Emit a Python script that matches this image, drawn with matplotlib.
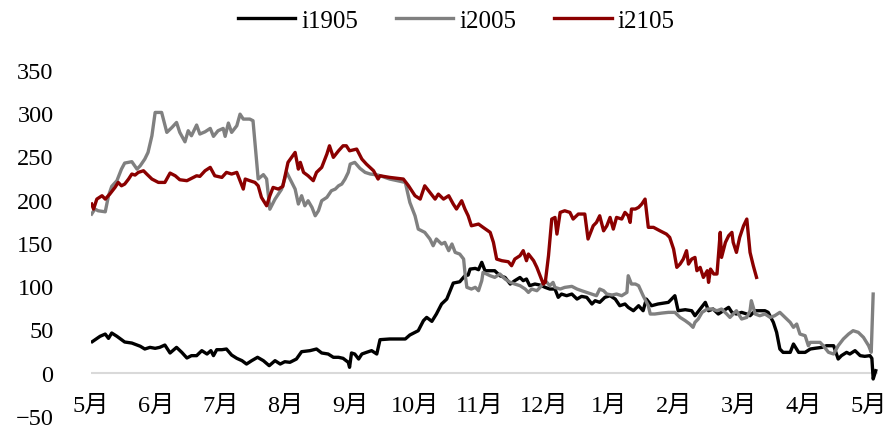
import numpy as np
import matplotlib
matplotlib.use("Agg")
import matplotlib.pyplot as plt

# x positions: months elapsed since the first "5月" tick
month_labels = ["5月", "6月", "7月", "8月", "9月", "10月", "11月", "12月",
                "1月", "2月", "3月", "4月", "5月"]

t_i1905 = [0.02, 0.14, 0.22, 0.27, 0.32, 0.40, 0.47, 0.52, 0.63, 0.76, 0.83, 0.91, 0.99,
           1.06, 1.14, 1.22, 1.32, 1.40, 1.48, 1.55, 1.63, 1.71, 1.79, 1.85, 1.89, 1.94,
           2.02, 2.09, 2.17, 2.25, 2.33, 2.40, 2.48, 2.57, 2.66, 2.75, 2.84, 2.92, 2.99,
           3.07, 3.17, 3.25, 3.38, 3.48, 3.56, 3.66, 3.74, 3.82, 3.89, 3.97, 3.99, 4.02,
           4.07, 4.13, 4.18, 4.25, 4.33, 4.41, 4.46, 4.61, 4.85, 4.92, 5.05, 5.13, 5.18,
           5.26, 5.33, 5.41, 5.49, 5.59, 5.69, 5.77, 5.82, 5.85, 5.93, 5.98, 6.03, 6.08,
           6.16, 6.23, 6.31, 6.39, 6.47, 6.54, 6.62, 6.67, 6.72, 6.77, 6.85, 6.93, 7.01,
           7.08, 7.16, 7.21, 7.26, 7.34, 7.42, 7.50, 7.57, 7.65, 7.73, 7.78, 7.85, 7.93,
           8.01, 8.09, 8.16, 8.24, 8.29, 8.37, 8.45, 8.52, 8.57, 8.65, 8.75, 8.91, 9.01,
           9.06, 9.17, 9.27, 9.32, 9.40, 9.48, 9.53, 9.60, 9.68, 9.76, 9.84, 9.89, 9.96,
           10.04, 10.12, 10.17, 10.25, 10.32, 10.40, 10.45, 10.53, 10.58, 10.63, 10.68,
           10.79, 10.84, 10.92, 11.02, 11.10, 11.17, 11.28, 11.35, 11.46, 11.53, 11.58,
           11.66, 11.71, 11.79, 11.87, 11.94, 12.02, 12.05, 12.07, 12.11]
v_i1905 = [35.7, 41.9, 44.5, 39.5, 45.7, 41.9, 38.0, 35.3, 34.1, 30.4, 27.2, 29.1, 28.0,
           29.1, 31.8, 22.6, 29.1, 23.4, 16.8, 19.5, 19.5, 25.3, 21.4, 25.3, 19.5, 26.4,
           26.4, 27.2, 20.2, 16.4, 13.7, 9.8, 13.7, 17.6, 13.7, 7.9, 13.7, 9.8, 12.5,
           11.8, 15.6, 24.1, 25.3, 27.2, 22.6, 21.4, 17.6, 17.6, 16.4, 11.8, 6.0, 22.6,
           21.4, 15.6, 21.4, 23.3, 25.3, 21.4, 38.0, 38.8, 38.8, 43.4, 48.4, 60.0, 63.8,
           59.2, 67.7, 79.3, 85.0, 103.5, 105.0, 112.0, 112.8, 119.7, 120.5, 119.0, 127.5, 117.8,
           117.8, 117.8, 112.0, 110.0, 102.4, 106.3, 110.0, 106.3, 108.2, 100.5, 102.4, 101.2, 98.5,
           96.6, 96.6, 87.0, 90.8, 88.9, 90.8, 85.0, 88.1, 87.0, 79.3, 83.1, 81.2, 87.0,
           88.9, 85.0, 77.3, 79.3, 75.4, 71.5, 77.3, 71.5, 85.0, 77.3, 79.3, 81.2, 88.9,
           71.5, 72.7, 71.5, 65.7, 73.5, 81.2, 71.5, 73.5, 67.7, 71.5, 75.4, 69.6, 67.7,
           69.6, 67.7, 65.7, 71.5, 71.5, 71.5, 69.6, 58.0, 46.5, 27.2, 23.3,
           23.3, 33.0, 23.3, 23.3, 27.2, 28.0, 29.1, 31.0, 31.0, 15.6, 19.5,
           23.3, 21.4, 25.3, 19.5, 18.7, 19.5, 16.4, -7.5, 2.1]

t_i2005 = [0.01, 0.06, 0.11, 0.22, 0.27, 0.32, 0.40, 0.47, 0.52, 0.63, 0.71, 0.76, 0.83,
           0.88, 0.94, 0.99, 1.09, 1.17, 1.25, 1.32, 1.37, 1.45, 1.50, 1.55, 1.63, 1.68,
           1.76, 1.84, 1.89, 1.96, 2.04, 2.07, 2.12, 2.17, 2.25, 2.30, 2.35, 2.45, 2.50,
           2.58, 2.66, 2.71, 2.76, 2.84, 2.94, 3.02, 3.15, 3.20, 3.25, 3.30, 3.35, 3.41,
           3.46, 3.51, 3.56, 3.64, 3.71, 3.77, 3.82, 3.87, 3.92, 3.97, 4.00, 4.07, 4.15,
           4.23, 4.31, 4.43, 4.61, 4.85, 4.92, 5.00, 5.05, 5.15, 5.23, 5.28, 5.33, 5.41,
           5.46, 5.52, 5.57, 5.62, 5.69, 5.75, 5.77, 5.80, 5.87, 5.93, 5.98, 6.03, 6.05,
           6.16, 6.23, 6.31, 6.39, 6.47, 6.54, 6.62, 6.70, 6.75, 6.80, 6.88, 6.93, 7.01,
           7.08, 7.13, 7.16, 7.24, 7.31, 7.42, 7.50, 7.57, 7.65, 7.73, 7.80, 7.85, 7.91,
           7.96, 8.04, 8.11, 8.19, 8.27, 8.29, 8.34, 8.40, 8.45, 8.52, 8.60, 8.63, 8.70,
           8.81, 8.91, 9.01, 9.09, 9.17, 9.24, 9.29, 9.32, 9.37, 9.43, 9.51, 9.58, 9.66,
           9.73, 9.81, 9.86, 9.91, 9.96, 10.04, 10.12, 10.17, 10.19, 10.25, 10.32, 10.40,
           10.48, 10.55, 10.63, 10.71, 10.79, 10.84, 10.89, 10.94, 11.02, 11.07, 11.10,
           11.17, 11.25, 11.30, 11.38, 11.46, 11.53, 11.61, 11.69, 11.76, 11.84, 11.92,
           12.00, 12.04, 12.07]
v_i2005 = [183.4, 189.2, 187.2, 186.0, 204.6, 215.4, 222.0, 235.4, 242.4, 244.0, 235.4, 239.3, 247.0,
           254.7, 274.0, 301.0, 301.0, 277.9, 283.7, 289.4, 277.9, 267.0, 279.8, 274.0, 286.4, 276.0,
           278.6, 282.5, 273.3, 279.8, 282.5, 273.3, 288.7, 277.9, 285.6, 299.0, 293.3, 293.3, 291.4,
           224.0, 229.0, 224.0, 189.0, 200.7, 212.0, 231.6, 212.3, 195.0, 204.6, 193.0, 198.8, 191.1,
           181.4, 187.2, 198.8, 202.7, 210.4, 212.3, 216.1, 218.1, 223.9, 231.6, 241.2, 243.2, 236.3,
           231.6, 229.7, 228.5, 223.9, 220.0, 196.9, 181.4, 166.0, 162.2, 154.5, 146.7, 154.5, 148.7,
           150.6, 141.0, 148.7, 139.0, 137.1, 131.3, 115.9, 98.6, 96.6, 98.6, 94.7, 106.3, 115.9,
           112.0, 110.1, 114.0, 108.2, 104.3, 102.4, 100.5, 96.6, 92.7, 96.6, 94.7, 98.5, 106.3,
           100.5, 104.3, 98.5, 96.6, 98.5, 99.7, 96.6, 94.7, 92.7, 90.8, 88.9, 96.6, 94.7,
           90.8, 89.7, 90.8, 88.9, 92.7, 112.0, 102.4, 102.4, 100.5, 88.9, 77.3, 67.7, 67.7,
           68.8, 69.6, 69.6, 63.8, 60.0, 56.1, 52.3, 58.0, 61.9, 69.6, 73.5, 73.5, 71.5,
           73.5, 67.7, 63.8, 67.7, 71.5, 61.9, 63.8, 71.5, 83.1, 67.7, 65.7, 67.7,
           63.8, 65.7, 69.6, 63.8, 58.0, 52.3, 56.1, 44.5, 42.6, 31.0, 34.9,
           34.9, 34.9, 31.0, 23.4, 21.4, 31.0, 38.8, 44.5, 48.4, 46.5, 40.7,
           31.0, 23.4, 90.8]

t_i2105 = [0.01, 0.04, 0.09, 0.17, 0.22, 0.29, 0.37, 0.42, 0.47, 0.52, 0.58, 0.63, 0.68,
           0.73, 0.81, 0.86, 0.94, 1.04, 1.14, 1.22, 1.30, 1.37, 1.48, 1.55, 1.63, 1.68,
           1.76, 1.84, 1.91, 2.02, 2.09, 2.17, 2.25, 2.30, 2.35, 2.38, 2.45, 2.53, 2.58,
           2.63, 2.71, 2.76, 2.81, 2.89, 2.96, 3.04, 3.15, 3.20, 3.23, 3.28, 3.35, 3.43,
           3.48, 3.56, 3.64, 3.68, 3.74, 3.82, 3.89, 3.94, 3.99, 4.10, 4.18, 4.25, 4.36,
           4.43, 4.46, 4.61, 4.82, 4.90, 5.00, 5.08, 5.15, 5.23, 5.31, 5.36, 5.44, 5.52,
           5.59, 5.64, 5.72, 5.77, 5.82, 5.87, 5.98, 6.05, 6.16, 6.21, 6.26, 6.34, 6.44,
           6.49, 6.54, 6.62, 6.67, 6.72, 6.75, 6.83, 6.88, 6.93, 6.98, 7.01, 7.06, 7.11,
           7.16, 7.19, 7.24, 7.31, 7.39, 7.44, 7.52, 7.62, 7.67, 7.75, 7.80, 7.85, 7.91,
           7.96, 8.01, 8.06, 8.11, 8.19, 8.24, 8.29, 8.32, 8.34, 8.40, 8.45, 8.50, 8.55,
           8.60, 8.68, 8.78, 8.88, 8.93, 8.99, 9.04, 9.09, 9.14, 9.19, 9.22, 9.27, 9.32,
           9.35, 9.40, 9.45, 9.51, 9.53, 9.56, 9.61, 9.66, 9.71, 9.73, 9.79, 9.84, 9.89,
           9.91, 9.96, 10.01, 10.07, 10.12, 10.17, 10.22, 10.27]
v_i2105 = [195.0, 189.2, 200.7, 204.6, 200.7, 206.5, 214.2, 220.0, 216.1, 218.1, 223.9, 229.7, 228.5,
           231.6, 233.5, 229.7, 223.9, 220.0, 220.0, 230.8, 227.7, 223.1, 222.0, 224.7, 227.7, 227.0,
           233.5, 237.4, 227.7, 225.8, 231.6, 229.7, 231.6, 222.0, 212.3, 223.9, 222.0, 220.0, 216.1,
           202.7, 193.0, 204.6, 214.2, 212.3, 215.4, 243.2, 254.7, 235.4, 243.2, 231.6, 227.7, 222.0,
           231.6, 237.4, 252.8, 262.4, 249.0, 256.6, 262.4, 262.4, 256.6, 258.6, 247.0, 241.2, 233.5,
           223.9, 227.7, 225.8, 223.9, 216.1, 204.6, 200.7, 216.1, 208.5, 200.7, 206.5, 200.7, 204.6,
           195.0, 189.2, 198.8, 189.2, 181.4, 169.8, 171.8, 168.0, 162.2, 150.6, 131.3, 129.4, 128.2,
           123.6, 131.3, 135.2, 141.0, 129.4, 137.1, 129.4, 121.7, 112.0, 102.4, 104.3, 135.2, 177.6,
           179.5, 160.2, 185.3, 187.2, 185.3, 177.6, 183.4, 183.4, 154.5, 169.8, 173.7, 181.4, 164.0,
           169.8, 179.5, 166.0, 179.5, 177.6, 185.3, 181.4, 173.7, 189.2, 189.2, 191.1, 195.0, 200.7,
           168.0, 168.0, 164.0, 160.2, 156.4, 142.9, 121.7, 125.5, 131.3, 141.0, 125.5, 131.3, 133.2,
           117.8, 121.7, 110.1, 117.8, 104.3, 119.7, 114.0, 114.0, 162.2, 133.2, 150.6, 158.3, 162.2,
           150.6, 139.0, 156.4, 169.8, 177.6, 139.0, 123.6, 110.1]

series_names = ["i1905", "i2005", "i2105"]
series_colors = ["#000000", "#808080", "#8B0000"]
y_ticks = [-50, 0, 50, 100, 150, 200, 250, 300, 350]

FONT = ["Liberation Serif", "Noto Sans CJK SC", "DejaVu Sans"]
plt.rcParams["font.family"] = FONT
plt.rcParams["axes.unicode_minus"] = True

fig = plt.figure(figsize=(8.93, 4.27), dpi=100)
ax = fig.add_axes([0.1019, 0.0241, 0.8817, 0.8094])

ax.axhline(0, color="#d9d9d9", lw=1.5, zorder=1)
for t, v, name, c in zip([t_i1905, t_i2005, t_i2105], [v_i1905, v_i2005, v_i2105],
                         series_names, series_colors):
    ax.plot(t, v, color=c, lw=2.4, label=name, zorder=3, solid_joinstyle="round")

ax.set_xlim(0, 12.15)
ax.set_ylim(-50, 350)
ax.set_yticks(y_ticks)
ax.set_xticks(np.arange(len(month_labels)))
ax.set_xticklabels(month_labels)
for s in ax.spines.values():
    s.set_visible(False)
ax.tick_params(axis="y", length=0, pad=27, labelsize=17.5)
ax.tick_params(axis="x", length=0, pad=-7.3, labelsize=17.5)
for lbl in ax.get_xticklabels():
    lbl.set_verticalalignment("center")

leg = fig.legend(loc="center", bbox_to_anchor=(0.511, 0.950), ncol=3, frameon=False,
                 fontsize=18, handlelength=2.3, handletextpad=0.25, columnspacing=1.5)

fig.savefig("out.png", dpi=100)
